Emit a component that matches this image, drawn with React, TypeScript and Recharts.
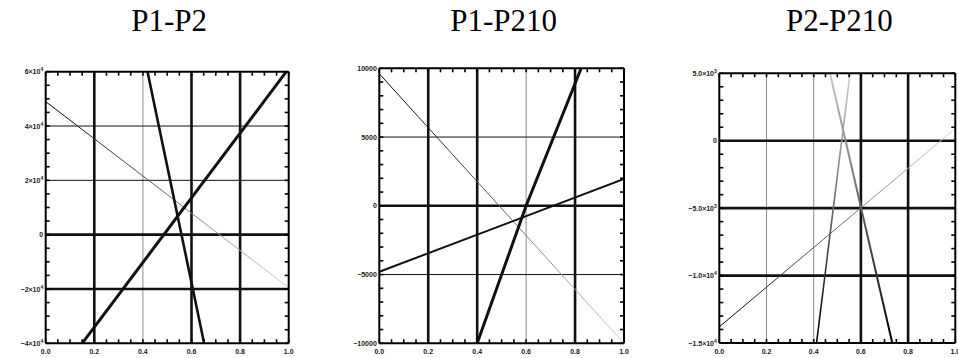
import React from 'react';
import { LineChart, Line, XAxis, YAxis, ReferenceLine } from 'recharts';

// ---------- P1-P2 ----------
const p1Title = 'P1-P2';
const p1XTicks = [0, 0.2, 0.4, 0.6, 0.8, 1.0];
const p1XLabels = ['0.0', '0.2', '0.4', '0.6', '0.8', '1.0'];
const p1YTicks = [-40000, -20000, 0, 20000, 40000, 60000];
const p1YLabels = ['−4×10^4', '−2×10^4', '0', '2×10^4', '4×10^4', '6×10^4'];
const p1GridX = [0.2, 0.4, 0.6, 0.8];
const p1GridY = [40000, 20000, 0, -20000];
const p1Falling = [{ x: 0, y: 49000 }, { x: 1, y: -19500 }];
const p1Rising = [{ x: 0.15, y: -40000 }, { x: 0.99, y: 60000 }];
const p1Steep = [{ x: 0.419, y: 60000 }, { x: 0.652, y: -40000 }];

// ---------- P1-P210 ----------
const p2Title = 'P1-P210';
const p2XTicks = [0, 0.2, 0.4, 0.6, 0.8, 1.0];
const p2XLabels = ['0.0', '0.2', '0.4', '0.6', '0.8', '1.0'];
const p2YTicks = [-10000, -5000, 0, 5000, 10000];
const p2YLabels = ['−10000', '−5000', '0', '5000', '10000'];
const p2GridX = [0.2, 0.4, 0.6, 0.8];
const p2GridY = [5000, 0, -5000];
const p2Falling = [{ x: 0, y: 9600 }, { x: 1, y: -10000 }];
const p2Rising = [{ x: 0, y: -4800 }, { x: 1, y: 1950 }];
const p2Steep = [{ x: 0.4, y: -10000 }, { x: 0.6, y: 0 }, { x: 0.825, y: 10000 }];

// ---------- P2-P210 ----------
const p3Title = 'P2-P210';
const p3XTicks = [0, 0.2, 0.4, 0.6, 0.8, 1.0];
const p3XLabels = ['0.0', '0.2', '0.4', '0.6', '0.8', '1.0'];
const p3YTicks = [-15000, -10000, -5000, 0, 5000];
const p3YLabels = ['−1.5×10^4', '−1.0×10^4', '−5.0×10^3', '0', '5.0×10^3'];
const p3GridX = [0.2, 0.4, 0.6, 0.8];
const p3GridY = [0, -5000, -10000];
const p3Rising = [{ x: 0, y: -13800 }, { x: 1, y: 900 }];
const p3SteepUp = [{ x: 0.412, y: -15000 }, { x: 0.554, y: 5000 }];
const p3SteepDown = [{ x: 0.469, y: 5000 }, { x: 0.733, y: -15000 }];

const FONT = '"Liberation Sans", Arial, sans-serif';
const INK = '#111';

// evenly spaced minor tick positions along an axis
const steps = (from: number, to: number, step: number) => {
  const out: number[] = [];
  for (let i = 0; from + i * step <= to + step / 2; i++) out.push(+(from + i * step).toFixed(6));
  return out;
};

const gridStroke = {
  heavy: { stroke: INK, strokeWidth: 2.6 },
  thin: { stroke: INK, strokeWidth: 1 },
  faint: { stroke: '#8c8c8c', strokeWidth: 1 },
} as const;
type GridKind = keyof typeof gridStroke;

function TickText({ x, y, text, anchor }: { x: number; y: number; text: string; anchor: 'start' | 'middle' | 'end' }) {
  const [base, exp] = text.split('^');
  return (
    <text x={x} y={y} textAnchor={anchor} fontFamily={FONT} fontSize={7} fontWeight="bold" fill="#1a1a1a">
      {base}
      {exp ? (
        <tspan dy={-3} fontSize={5}>
          {exp}
        </tspan>
      ) : null}
    </text>
  );
}

const findMajor = (majors: number[], v: number) =>
  majors.findIndex((m) => Math.abs(m - v) < 1e-6 * Math.max(1, Math.abs(m)));

type PanelCfg = {
  id: string;
  left: number;
  width: number;
  margin: { top: number; right: number; bottom: number; left: number };
  xTicks: number[];
  xLabels: string[];
  yTicks: number[];
  yLabels: string[];
  xMinor: number[];
  yMinor: number[];
  gridX: number[];
  gridXKind: GridKind[];
  gridY: number[];
  gridYKind: GridKind[];
  series: { data: { x: number; y: number }[]; stroke: string; width: number }[];
  gradients: { id: string; vertical: boolean; from: string; to: string }[];
};

const TICK_LEN = 4;
const AX = 1; // thickness reserved for each axis band

function Panel({ cfg }: { cfg: PanelCfg }) {
  const xDomain: [number, number] = [cfg.xTicks[0], cfg.xTicks[cfg.xTicks.length - 1]];
  const yDomain: [number, number] = [cfg.yTicks[0], cfg.yTicks[cfg.yTicks.length - 1]];
  const frame = { stroke: '#000', strokeWidth: 2 };
  const m = {
    top: cfg.margin.top - AX,
    right: cfg.margin.right - AX,
    bottom: cfg.margin.bottom - AX,
    left: cfg.margin.left - AX,
  };

  const bottomTick = (p: any) => {
    const i = findMajor(cfg.xTicks, p.payload.value);
    return (
      <g>
        <line x1={p.x} y1={p.y} x2={p.x} y2={p.y - TICK_LEN} stroke="#000" strokeWidth={1.6} />
        {i >= 0 ? <TickText x={p.x} y={p.y + 10.8} text={cfg.xLabels[i]} anchor="middle" /> : null}
      </g>
    );
  };
  const topTick = (p: any) => (
    <line x1={p.x} y1={p.y} x2={p.x} y2={p.y + TICK_LEN} stroke="#000" strokeWidth={1.6} />
  );
  const leftTick = (p: any) => {
    const i = findMajor(cfg.yTicks, p.payload.value);
    return (
      <g>
        <line x1={p.x} y1={p.y} x2={p.x + TICK_LEN} y2={p.y} stroke="#000" strokeWidth={1.6} />
        {i >= 0 ? <TickText x={p.x - 2.5} y={p.y + 2.6} text={cfg.yLabels[i]} anchor="end" /> : null}
      </g>
    );
  };
  const rightTick = (p: any) => (
    <line x1={p.x} y1={p.y} x2={p.x - TICK_LEN} y2={p.y} stroke="#000" strokeWidth={1.6} />
  );

  return (
    <div style={{ position: 'absolute', left: cfg.left, top: 0 }}>
      <LineChart width={cfg.width} height={358} margin={m} style={{ overflow: 'visible' }}>
        <defs>
          {cfg.gradients.map((g) => (
            <linearGradient key={g.id} id={g.id} x1="0" y1="0" x2={g.vertical ? '0' : '1'} y2={g.vertical ? '1' : '0'}>
              <stop offset="0%" stopColor={g.from} />
              <stop offset="100%" stopColor={g.to} />
            </linearGradient>
          ))}
        </defs>
        <XAxis
          xAxisId="b"
          type="number"
          dataKey="x"
          domain={xDomain}
          allowDataOverflow
          ticks={cfg.xMinor}
          interval={0}
          height={AX}
          tickSize={0}
          tickMargin={0}
          tickLine={false}
          axisLine={frame}
          tick={bottomTick}
        />
        <XAxis
          xAxisId="t"
          orientation="top"
          type="number"
          dataKey="x"
          domain={xDomain}
          allowDataOverflow
          ticks={cfg.xMinor}
          interval={0}
          height={AX}
          tickSize={0}
          tickMargin={0}
          tickLine={false}
          axisLine={frame}
          tick={topTick}
        />
        <YAxis
          yAxisId="l"
          type="number"
          domain={yDomain}
          allowDataOverflow
          ticks={cfg.yMinor}
          interval={0}
          width={AX}
          tickSize={0}
          tickMargin={0}
          tickLine={false}
          axisLine={frame}
          tick={leftTick}
        />
        <YAxis
          yAxisId="r"
          orientation="right"
          type="number"
          domain={yDomain}
          allowDataOverflow
          ticks={cfg.yMinor}
          interval={0}
          width={AX}
          tickSize={0}
          tickMargin={0}
          tickLine={false}
          axisLine={frame}
          tick={rightTick}
        />
        {cfg.gridX.map((v, i) => (
          <ReferenceLine key={`gx${i}`} x={v} xAxisId="b" yAxisId="l" {...gridStroke[cfg.gridXKind[i]]} />
        ))}
        {cfg.gridY.map((v, i) => (
          <ReferenceLine key={`gy${i}`} y={v} xAxisId="b" yAxisId="l" {...gridStroke[cfg.gridYKind[i]]} />
        ))}
        {cfg.series.map((s, i) => (
          <Line
            key={`s${i}`}
            xAxisId="b"
            yAxisId="l"
            data={s.data}
            dataKey="y"
            type="linear"
            stroke={s.stroke}
            strokeWidth={s.width}
            dot={false}
            activeDot={false}
            isAnimationActive={false}
          />
        ))}
      </LineChart>
    </div>
  );
}

const panels: PanelCfg[] = [
  {
    id: 'a',
    left: 0,
    width: 300,
    margin: { top: 71.7, right: 11.3, bottom: 14.7, left: 45.7 },
    xTicks: p1XTicks,
    xLabels: p1XLabels,
    yTicks: p1YTicks,
    yLabels: p1YLabels,
    xMinor: steps(0, 1, 0.05),
    yMinor: steps(-40000, 60000, 5000),
    gridX: p1GridX,
    gridXKind: ['heavy', 'faint', 'heavy', 'heavy'],
    gridY: p1GridY,
    gridYKind: ['thin', 'thin', 'heavy', 'heavy'],
    gradients: [{ id: 'a-fade', vertical: false, from: '#000', to: '#d8d8d8' }],
    series: [
      { data: p1Falling, stroke: 'url(#a-fade)', width: 1 },
      { data: p1Rising, stroke: INK, width: 3 },
      { data: p1Steep, stroke: INK, width: 2.6 },
    ],
  },
  {
    id: 'b',
    left: 320,
    width: 320,
    margin: { top: 68.3, right: 16, bottom: 14.7, left: 59.3 },
    xTicks: p2XTicks,
    xLabels: p2XLabels,
    yTicks: p2YTicks,
    yLabels: p2YLabels,
    xMinor: steps(0, 1, 0.05),
    yMinor: steps(-10000, 10000, 1000),
    gridX: p2GridX,
    gridXKind: ['heavy', 'heavy', 'faint', 'heavy'],
    gridY: p2GridY,
    gridYKind: ['thin', 'heavy', 'thin'],
    gradients: [{ id: 'b-fade', vertical: false, from: '#000', to: '#d0d0d0' }],
    series: [
      { data: p2Falling, stroke: 'url(#b-fade)', width: 1 },
      { data: p2Rising, stroke: INK, width: 2 },
      { data: p2Steep, stroke: INK, width: 3 },
    ],
  },
  {
    id: 'c',
    left: 640,
    width: 318,
    margin: { top: 73.3, right: 2.7, bottom: 15, left: 79.3 },
    xTicks: p3XTicks,
    xLabels: p3XLabels,
    yTicks: p3YTicks,
    yLabels: p3YLabels,
    xMinor: steps(0, 1, 0.05),
    yMinor: steps(-15000, 5000, 1000),
    gridX: p3GridX,
    gridXKind: ['faint', 'faint', 'heavy', 'heavy'],
    gridY: p3GridY,
    gridYKind: ['heavy', 'heavy', 'heavy'],
    gradients: [
      { id: 'c-fade', vertical: false, from: '#000', to: '#d8d8d8' },
      { id: 'c-up', vertical: true, from: '#d0d0d0', to: '#000' },
      { id: 'c-down', vertical: true, from: '#c8c8c8', to: '#000' },
    ],
    series: [
      { data: p3Rising, stroke: 'url(#c-fade)', width: 1 },
      { data: p3SteepUp, stroke: 'url(#c-up)', width: 1.6 },
      { data: p3SteepDown, stroke: 'url(#c-down)', width: 2 },
    ],
  },
];

const titles = [p1Title, p2Title, p3Title];

export default function App() {
  return (
    <div style={{ position: 'absolute', left: 0, top: 0, width: 958, height: 358, background: '#fff', overflow: 'hidden' }}>
      {panels.map((p) => (
        <Panel key={p.id} cfg={p} />
      ))}
      <svg width={958} height={50} style={{ position: 'absolute', left: 0, top: 0 }}>
        {panels.map((p, i) => (
          <text
            key={p.id}
            x={p.left + p.margin.left + (p.width - p.margin.left - p.margin.right) / 2 + 2}
            y={30.7}
            textAnchor="middle"
            fontFamily='"Liberation Serif", "Times New Roman", serif'
            fontSize={31}
            fill="#000"
          >
            {titles[i]}
          </text>
        ))}
      </svg>
    </div>
  );
}
